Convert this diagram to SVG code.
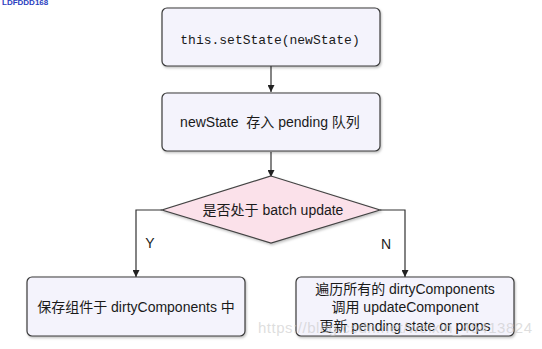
<svg xmlns="http://www.w3.org/2000/svg" width="542" height="349" viewBox="0 0 542 349">
<style>
.box{fill:#f4f3fc;stroke:#3a3a3a;stroke-width:1.2;filter:url(#sh)}
.dia{fill:#fbe1ea;stroke:#444;stroke-width:1.2;filter:url(#sh)}
.t{font-family:"Liberation Sans","Noto Sans CJK SC",sans-serif;font-size:14px;fill:#1a1a1a;text-anchor:middle}
.mono{font-family:"Liberation Mono","DejaVu Sans Mono",monospace;font-size:13px;fill:#1a1a1a;text-anchor:middle}
.lbl{font-family:"Liberation Sans",sans-serif;font-size:14px;fill:#222;text-anchor:middle}
.ln{fill:none;stroke:#333;stroke-width:1.2}
</style>
<defs>
<filter id="sh" x="-10%" y="-10%" width="120%" height="130%">
<feDropShadow dx="1" dy="1.5" stdDeviation="1" flood-color="#000" flood-opacity="0.25"/>
</filter>
<marker id="ar" viewBox="0 0 10 10" refX="10" refY="5" markerWidth="7" markerHeight="7" markerUnits="userSpaceOnUse" orient="auto">
<path d="M0,0 L10,5 L0,10 z" fill="#222"/>
</marker>
</defs>
<rect width="542" height="349" fill="#ffffff"/>
<text x="2" y="5" font-family="Liberation Sans,sans-serif" font-size="8" font-weight="bold" fill="#2b3fc0">LDFDDD168</text>
<g id="connectors">
<line class="ln" x1="271" y1="66" x2="271" y2="92" marker-end="url(#ar)"/>
<line class="ln" x1="271" y1="152" x2="271" y2="177" marker-end="url(#ar)"/>
<polyline class="ln" points="162,210 136,210 136,277" marker-end="url(#ar)"/>
<polyline class="ln" points="380,210 405,210 405,277" marker-end="url(#ar)"/>
<text class="lbl" x="150" y="248">Y</text>
<text class="lbl" x="386" y="249">N</text>
</g>
<g id="n1">
<rect class="box" x="162" y="8" width="218" height="58" rx="5"/>
<text class="mono" x="270" y="44">this.setState(newState)</text>
</g>
<g id="n2">
<rect class="box" x="162" y="93" width="218" height="58" rx="5"/>
<text class="t" x="270" y="127">newState&#160; 存入 pending 队列</text>
</g>
<g id="n3">
<polygon class="dia" points="271,176 380,210 271,243 162,210"/>
<text class="t" x="273" y="215">是否处于 batch update</text>
</g>
<g id="n4">
<rect class="box" x="27" y="277" width="218" height="59" rx="5"/>
<text class="t" x="136" y="312">保存组件于 dirtyComponents 中</text>
</g>
<g id="n5">
<rect class="box" x="296" y="277" width="218" height="59" rx="5"/>
<text class="t" x="405" y="294">遍历所有的 dirtyComponents</text>
<text class="t" x="405" y="312">调用 updateComponent</text>
<text class="t" x="405" y="331">更新 pending state or props</text>
</g>
<text x="258" y="333" font-family="Liberation Sans,sans-serif" font-size="15" fill="#c8c8c8" fill-opacity="0.6" textLength="274">https://blog.csdn.net/weixin_45413824</text>
</svg>
